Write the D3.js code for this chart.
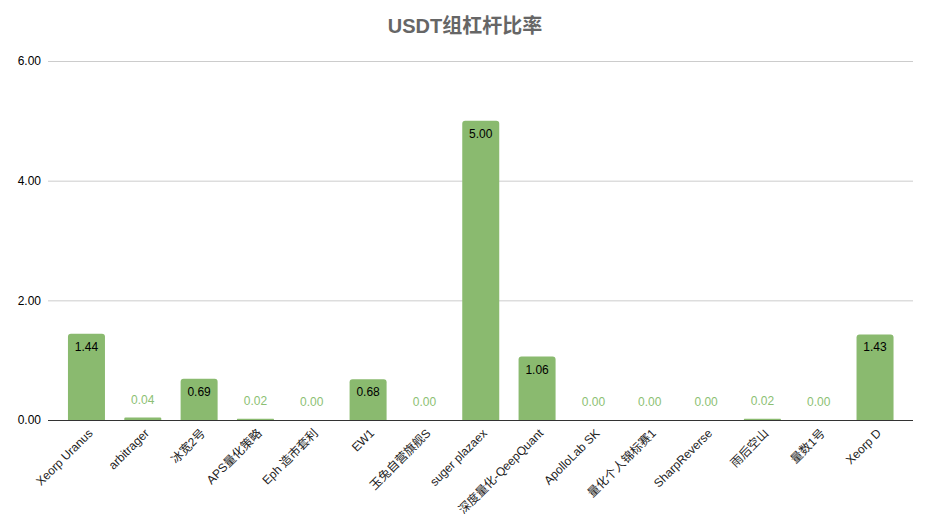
<!DOCTYPE html>
<html><head><meta charset="utf-8">
<script src="https://cdn.jsdelivr.net/npm/d3@7"></script>
<style>body{margin:0;background:#fff}text{font-family:Arial,"Liberation Sans","Noto Sans CJK SC",sans-serif}</style>
</head><body>
<svg id="c" width="926" height="524"></svg>
<script>
const categories = ["Xeorp Uranus","arbitrager","冰宽2号","APS量化策略","Eph 造市套利","EW1","玉兔自营旗舰S","suger plazaex","深度量化-QeepQuant","ApolloLab SK","量化个人锦标赛1","SharpReverse","雨后空山","量数1号","Xeorp D"];
const values = [1.44,0.04,0.69,0.02,0.00,0.68,0.00,5.00,1.06,0.00,0.00,0.00,0.02,0.00,1.43];
const yTicks = [0,2,4,6];
const title = "USDT组杠杆比率";

(function(){
const svg = d3.select("#c");
const mLeft = 48, mRight = 913, mTop = 61, mBottom = 420;
const x = d3.scaleBand().domain(categories).range([58.3, 903.2]).paddingInner(0.343).paddingOuter(0.1715);
const y = d3.scaleLinear().domain([0,6]).range([mBottom, mTop]);

svg.append("text").attr("x", 465).attr("y", 33).attr("text-anchor","middle")
  .attr("font-size", 20).attr("font-weight","bold").attr("fill","#666").text(title);

svg.append("g").selectAll("line").data(yTicks.filter(d=>d>0)).join("line")
  .attr("x1", mLeft).attr("x2", mRight).attr("y1", d=>y(d)+0.5).attr("y2", d=>y(d)+0.5)
  .attr("stroke","#ccc").attr("stroke-width",1);
svg.append("g").selectAll("text").data(yTicks).join("text")
  .attr("x", 41).attr("y", d=>y(d)).attr("dy","0.35em").attr("text-anchor","end")
  .attr("font-size", 12).attr("fill","#000").text(d=>d.toFixed(2));

const green = "#8aba6f";
svg.append("g").selectAll("path").data(values).join("path")
  .attr("d", (d,i)=>{
    const x0 = x(categories[i]), w = x.bandwidth(), y0 = y(d), h = mBottom - y0;
    if (h <= 0) return "";
    const r = Math.min(3, h/2, w/2);
    return `M${x0},${mBottom}V${y0+r}Q${x0},${y0} ${x0+r},${y0}H${x0+w-r}Q${x0+w},${y0} ${x0+w},${y0+r}V${mBottom}Z`;
  })
  .attr("fill", green);

svg.append("line").attr("x1", mLeft).attr("x2", mRight).attr("y1", mBottom+0.5).attr("y2", mBottom+0.5)
  .attr("stroke","#333").attr("stroke-width",1);

svg.append("g").selectAll("text").data(values).join("text")
  .attr("x", (d,i)=>x(categories[i]) + x.bandwidth()/2)
  .attr("y", d => d > 0.3 ? y(d) + 17 : y(d) - 14)
  .attr("text-anchor","middle").attr("font-size", 12)
  .attr("fill", d => d > 0.3 ? "#000" : "#8cbf73")
  .text(d=>d.toFixed(2));

svg.append("g").selectAll("text").data(categories).join("text")
  .attr("transform", d=>`translate(${x(d)+x.bandwidth()/2+4},${431}) rotate(-45)`)
  .attr("text-anchor","end").attr("dy","0.35em").attr("font-size", 12).attr("fill","#222")
  .text(d=>d);
})();
</script>
</body></html>
